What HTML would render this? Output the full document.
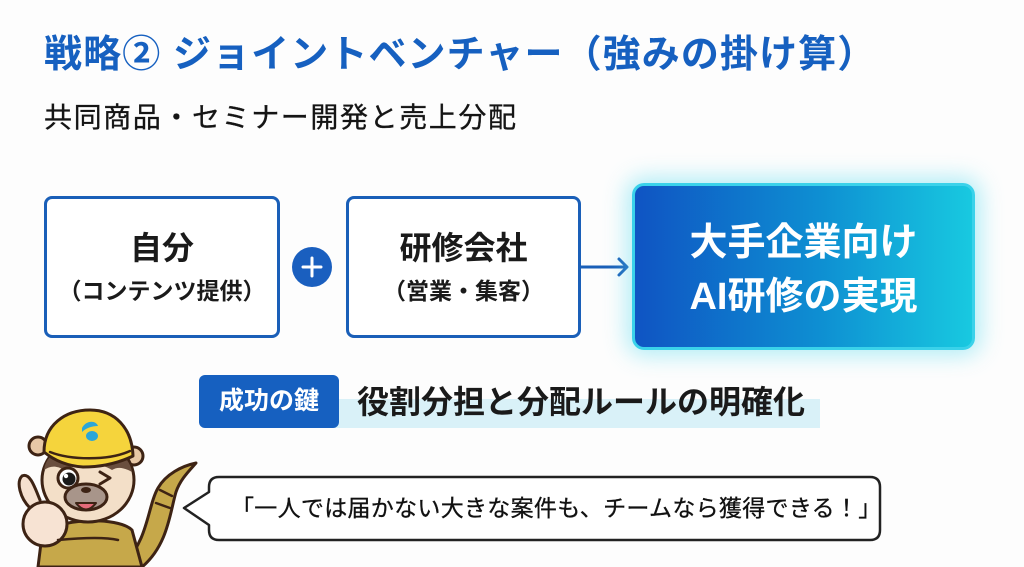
<!DOCTYPE html>
<html><head><meta charset="utf-8"><style>
html,body{margin:0;padding:0}
body{width:1024px;height:567px;position:relative;overflow:hidden;background:#fdfdfd;font-family:"Liberation Sans","Noto Sans CJK JP",sans-serif}
.a{position:absolute;line-height:1;white-space:nowrap}
.box{position:absolute;box-sizing:border-box;border:3px solid #1a5fb8;border-radius:8px;background:#fff}
</style></head><body>
<div class="a" style="left:44px;top:36px;font-size:38px;font-weight:bold;color:#1660c0;letter-spacing:1.1px">戦略② ジョイントベンチャー（強みの掛け算）</div>
<div class="a" style="left:44px;top:104px;font-size:28px;color:#151515;letter-spacing:1.6px;-webkit-text-stroke:0.3px #151515">共同商品・セミナー開発と売上分配</div>

<div class="box" style="left:44px;top:196px;width:236px;height:142px"></div>
<div class="a" style="left:44px;width:236px;text-align:center;top:232px;font-size:32px;font-weight:bold;color:#1a1a1a">自分</div>
<div class="a" style="left:44px;width:236px;text-align:center;top:280px;font-size:23px;font-weight:bold;color:#1a1a1a">（コンテンツ提供）</div>

<div class="box" style="left:346px;top:196px;width:235px;height:142px"></div>
<div class="a" style="left:346px;width:235px;text-align:center;top:232px;font-size:32px;font-weight:bold;color:#1a1a1a">研修会社</div>
<div class="a" style="left:346px;width:235px;text-align:center;top:280px;font-size:23px;font-weight:bold;color:#1a1a1a">（営業・集客）</div>

<svg class="a" style="left:0;top:0" width="1024" height="567">
<circle cx="312" cy="267" r="20" fill="#1a5fbf"/>
<path d="M312,258 V276 M303,267 H321" stroke="#fff" stroke-width="3" stroke-linecap="round"/>
<path d="M581,267 H627" stroke="#1a5fb8" stroke-width="3"/>
<path d="M619,259 L627,267 L619,275" stroke="#1a5fb8" stroke-width="3" fill="none" stroke-linecap="round" stroke-linejoin="round"/>
</svg>

<div style="position:absolute;left:632px;top:183px;width:343px;height:167px;box-sizing:border-box;border:3px solid #3ad2ea;border-radius:12px;background:linear-gradient(90deg,#0f54c3 0%,#0e8fd2 55%,#18c9e0 100%);box-shadow:0 0 22px 6px rgba(90,220,240,0.45)"></div>
<div class="a" style="left:632px;width:343px;text-align:center;top:224px;font-size:38px;font-weight:bold;color:#fff">大手企業向け</div>
<div class="a" style="left:632px;width:343px;text-align:center;top:278px;font-size:38px;font-weight:bold;color:#fff">AI研修の実現</div>

<div style="position:absolute;left:330px;top:399px;width:490px;height:29px;background:#d9f1f8"></div>
<div style="position:absolute;left:199px;top:375px;width:140px;height:53px;border-radius:6px;background:#1660c0"></div>
<div class="a" style="left:199px;width:140px;text-align:center;top:389px;font-size:25px;font-weight:bold;color:#fff">成功の鍵</div>
<div class="a" style="left:357px;top:386px;font-size:32px;font-weight:bold;color:#1a1a1a">役割分担と分配ルールの明確化</div>

<svg class="a" style="left:0;top:0" width="1024" height="567">
<path d="M219,477 H870 Q880,477 880,487 V530 Q880,540 870,540 H219 Q209,540 209,530 V525 L184,508 L209,492 V487 Q209,477 219,477 Z" fill="#fff" stroke="#222" stroke-width="2.5" stroke-linejoin="round"/>
</svg>
<div class="a" style="left:231px;top:497px;font-size:23px;color:#111;letter-spacing:0.3px;-webkit-text-stroke:0.3px #111">「一人では届かない大きな案件も、チームなら獲得できる！」</div>

<svg class="a" style="left:0;top:400px" width="210" height="167" viewBox="0 400 210 167">
<g stroke="#3d2314" stroke-width="3" stroke-linejoin="round" stroke-linecap="round">
<path d="M125,562 C148,540 148,505 158,488 C166,474 182,466 196,463 C188,472 180,480 176,492 C170,512 168,545 142,567 L120,567 Z" fill="#c6a84a"/>
<path d="M160,490 L172,496 M156,503 L170,508" stroke-width="2.5" fill="none"/>
<path d="M38,567 L42,535 C55,518 118,516 132,530 L142,567 Z" fill="#c6a84a"/>
<circle cx="38" cy="446" r="9" fill="#e8c8a6"/>
<circle cx="134" cy="456" r="9" fill="#e8c8a6"/>
<ellipse cx="88" cy="480" rx="46" ry="42" fill="#f3dfc8"/>
<path d="M44,470 C46,455 60,445 88,444 C116,445 130,458 132,472 C125,468 118,466 112,470 C100,462 78,462 64,470 C56,465 50,466 44,470 Z" fill="#6a4e3e" stroke="none"/>
<path d="M44,452 C44,425 65,410 90,410 C115,410 132,428 133,456 C116,464 100,467 83,467 C68,466 55,461 44,452 Z" fill="#f5d43c"/>
<path d="M50,452 C70,460 108,461 130,451" fill="none" stroke-width="2.5"/>
<circle cx="68" cy="478" r="10" fill="#fff"/>
<circle cx="69" cy="479" r="6.5" fill="#1a1a1a" stroke="none"/>
<circle cx="66" cy="476" r="2.2" fill="#fff" stroke="none"/>
<path d="M100,472 L110,478 L100,484" fill="none"/>
<ellipse cx="86" cy="497" rx="21" ry="13" fill="#a8958a"/>
<ellipse cx="86" cy="490" rx="5" ry="3" fill="#3d2314" stroke="none"/>
<path d="M76,503 Q86,516 96,503 Z" fill="#e56b7a" stroke-width="2"/>
<path d="M30,508 C20,498 16,482 22,476 C30,472 35,488 40,500" fill="#f5e0cf"/>
<circle cx="45" cy="524" r="22" fill="#f7e3d3"/>
<path d="M58,540 C80,538 105,537 118,540" fill="none" stroke-width="2.5"/>
</g>
<path d="M82,428 C86,420 96,420 98,426 C92,426 86,428 82,432 Z" fill="#2aa6d8"/>
<ellipse cx="92" cy="436" rx="6" ry="5" fill="#2aa6d8"/>
</svg>
</body></html>
